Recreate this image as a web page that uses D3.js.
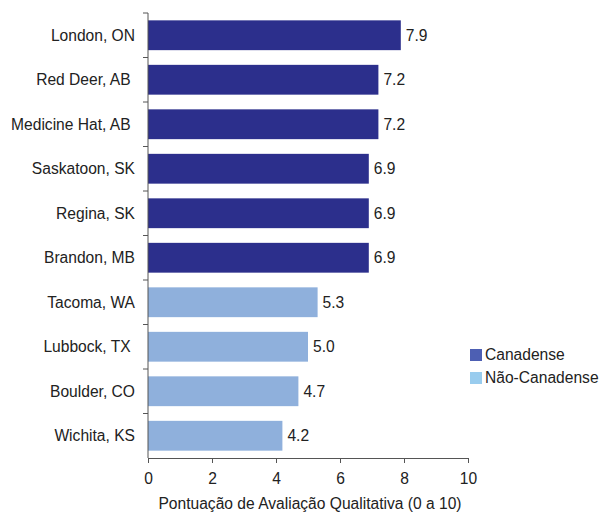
<!DOCTYPE html>
<html><head><meta charset="utf-8">
<script src="https://cdn.jsdelivr.net/npm/d3@7"></script>
<style>body{margin:0;background:#fff}svg{display:block;font-family:"Liberation Sans",Arial,sans-serif}text{white-space:pre}</style>
</head><body><svg id="c" width="602" height="513"></svg>
<script>
const categories = ["London, ON","Red Deer, AB ","Medicine Hat, AB ","Saskatoon, SK","Regina, SK","Brandon, MB","Tacoma, WA","Lubbock, TX ","Boulder, CO","Wichita, KS"];
const values = [7.9,7.2,7.2,6.9,6.9,6.9,5.3,5.0,4.7,4.2];
const groups = ["Canadense","Canadense","Canadense","Canadense","Canadense","Canadense","Não-Canadense","Não-Canadense","Não-Canadense","Não-Canadense"];
const xTicks = [0,2,4,6,8,10];
const legendLabels = ["Canadense","Não-Canadense"];
const barColors = {"Canadense":"#2c2f8c","Não-Canadense":"#8fb0dc"};
const legendColors = {"Canadense":"#4d5fb3","Não-Canadense":"#99ccee"};

const svg = d3.select("#c");
const FS = 15.6;
const x = d3.scaleLinear().domain([0,10]).range([148,468]);
const y = d3.scaleBand().domain(categories).range([13,458]).paddingInner(0.33).paddingOuter(0.165);
const textColor = "#222";

svg.selectAll("rect.bar").data(values).enter().append("rect")
  .attr("x", x(0)).attr("y",(d,i)=>y(categories[i]))
  .attr("width", d=>x(d)-x(0)).attr("height", y.bandwidth())
  .attr("fill",(d,i)=>barColors[groups[i]]);

svg.selectAll("text.val").data(values).enter().append("text")
  .attr("x", d=>x(d)+5).attr("y",(d,i)=>y(categories[i])+y.bandwidth()/2)
  .attr("dy","0.35em").attr("font-size",FS).attr("fill",textColor)
  .text(d=>d.toFixed(1));

svg.selectAll("text.cat").data(categories).enter().append("text")
  .attr("x",135).attr("y",d=>y(d)+y.bandwidth()/2).attr("dy","0.35em")
  .attr("text-anchor","end").attr("font-size",FS).attr("fill",textColor).text(d=>d);

const axisColor = "#555";
svg.append("line").attr("x1",x(0)).attr("x2",x(0)).attr("y1",13).attr("y2",458).attr("stroke",axisColor);
const bounds = d3.range(categories.length).map(i=>13+i*(445/categories.length));
svg.selectAll("line.yt").data(bounds).enter().append("line")
  .attr("x1",x(0)-5).attr("x2",x(0)).attr("y1",d=>d).attr("y2",d=>d).attr("stroke",axisColor);

const xa = svg.append("g").attr("transform","translate(0,458)")
  .call(d3.axisBottom(x).tickValues(xTicks).tickSize(5).tickPadding(10).tickFormat(d3.format("d")));
xa.select(".domain").attr("stroke",axisColor);
xa.selectAll(".tick line").attr("stroke",axisColor);
xa.selectAll("text").attr("font-size",FS).attr("fill",textColor).attr("font-family","Liberation Sans, Arial, sans-serif");

svg.append("text").attr("x",310).attr("y",509).attr("text-anchor","middle")
  .attr("font-size",FS).attr("fill",textColor).text("Pontuação de Avaliação Qualitativa (0 a 10)");

const lg = svg.selectAll("g.lg").data(legendLabels).enter().append("g")
  .attr("transform",(d,i)=>`translate(470,${349+i*23})`);
lg.append("rect").attr("width",12).attr("height",12).attr("fill",d=>legendColors[d]);
lg.append("text").attr("x",15).attr("y",6).attr("dy","0.35em").attr("font-size",FS).attr("fill",textColor).text(d=>d);
</script></body></html>
